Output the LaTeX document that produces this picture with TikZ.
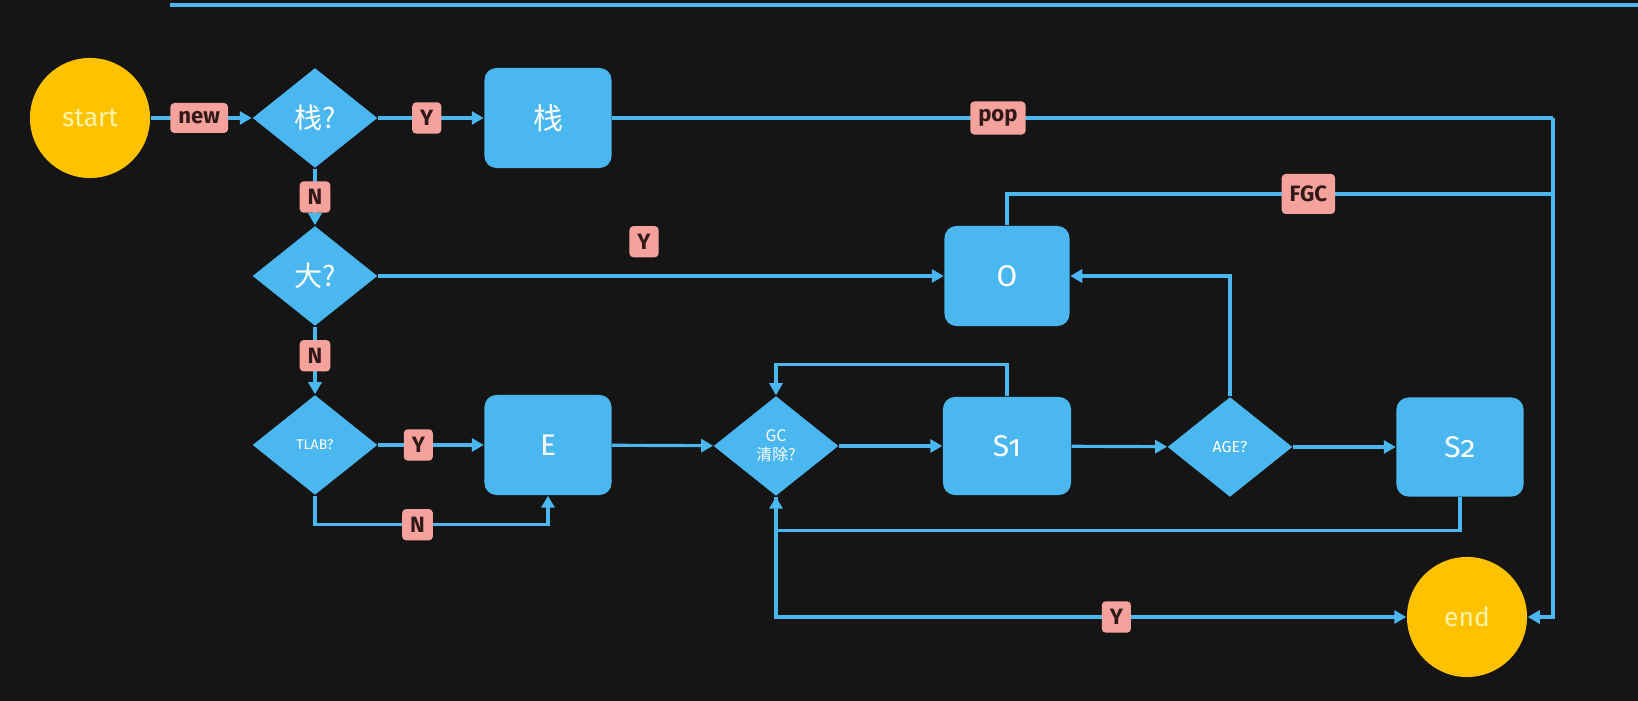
\documentclass[tikz,border=0pt]{standalone}
\usepackage{fontspec}
\setmainfont{Fira Sans}
\newfontfamily\cjk{Noto Sans CJK SC}
\newfontfamily\onum[Numbers=OldStyle]{Fira Sans}
\usepackage{xcolor}
\usetikzlibrary{shapes.geometric,arrows.meta}

\definecolor{board}{RGB}{21,21,21}
\definecolor{flowblue}{RGB}{74,183,240}
\definecolor{gold}{RGB}{255,194,0}
\definecolor{palegold}{RGB}{255,244,170}
\definecolor{salmon}{RGB}{246,162,156}
\definecolor{darktxt}{RGB}{50,25,25}

\tikzset{
  term/.style={circle, fill=gold, text=palegold, minimum size=1.2cm, inner sep=0pt, font=\fontsize{7.5}{8.5}\selectfont},
  ask/.style={diamond, fill=flowblue, text=white, minimum width=1.25cm, minimum height=1cm, inner sep=0pt, align=center},
  area/.style={rectangle, rounded corners=0.12cm, fill=flowblue, text=white, minimum width=1.27cm, minimum height=1cm, font=\fontsize{8.5}{10}\selectfont},
  tag/.style={rectangle, rounded corners=0.04cm, fill=salmon, text=darktxt, minimum height=0.3cm, inner sep=0.08cm, font=\fontsize{6.3}{7}\selectfont\bfseries},
  flow/.style={draw=flowblue, line width=0.9pt, -{Triangle[length=1.2mm,width=1.3mm]}},
  rail/.style={draw=flowblue, line width=0.9pt}
}

\begin{document}
\begin{tikzpicture}[x=0.01cm, y=-0.01cm]
\fill[board] (0,0) rectangle (1638,701);
\useasboundingbox (0,0) rectangle (1638,701);
\draw[rail, line width=1.2pt] (170,5) -- (1638,5);

\node[term] (start) at (90,118) {start};
\node[ask, font=\cjk\fontsize{8}{9}\selectfont] (isstack) at (315,118) {栈?};
\node[area, font=\cjk\fontsize{8.5}{10}\selectfont] (stack) at (548,118) {栈};
\node[ask, font=\cjk\fontsize{8}{9}\selectfont] (isbig) at (315,276) {大?};
\node[area, minimum width=1.25cm] (old) at (1007,276) {O};
\node[ask, font=\fontsize{4}{5}\selectfont] (tlab) at (315,445) {TLAB?};
\node[area] (eden) at (548,445) {E};
\node[ask, font=\cjk\fontsize{4.5}{5.5}\selectfont] (gc) at (776,446) {GC\\清除?};
\node[area, minimum width=1.28cm, minimum height=0.98cm] (sone) at (1007,446) {\onum S1};
\node[ask, font=\fontsize{4.5}{5.5}\selectfont] (age) at (1230,447) {AGE?};
\node[area, minimum width=1.27cm, minimum height=0.99cm] (stwo) at (1460,447) {\onum S2};
\node[term] (end) at (1467,617) {end};

\coordinate (poprail) at (1553,118);
\coordinate (fgcrail) at (1553,194);

% allocation path
\draw[flow] (start) -- node[tag, pos=0.48]{new} (isstack);
\draw[flow] (isstack) -- node[tag, pos=0.46]{Y} (stack);
\draw[flow] (isstack) -- node[tag]{N} (isbig);
\draw[flow] (isbig) -- node[tag, pos=0.47, above=0.17cm]{Y} (old);
\draw[flow] (isbig) -- node[tag, pos=0.43]{N} (tlab);
\draw[flow] (tlab) -- node[tag, pos=0.38]{Y} (eden);
\draw[flow] (tlab.south) -- ++(0,29) -| node[tag, pos=0.22]{N} (eden.south);

% young generation
\draw[flow] (eden) -- (gc);
\draw[flow] (gc) -- (sone);
\draw[flow] (sone.north) -- ++(0,-32) -| (gc.north);
\draw[flow] (sone) -- (age);
\draw[flow] (age) -- (stwo);
\draw[flow] (age.north) |- (old.east);
\draw[flow] (stwo.south) -- ++(0,33) -| (gc.south);

% to the end
\draw[rail] (stack.east) -- node[tag, pos=0.41]{pop} (poprail);
\draw[flow] (poprail) |- (end.east);
\draw[rail] (old.north) |- node[tag, pos=0.776, minimum height=0.4cm]{FGC} (fgcrail);
\draw[flow] (gc.south) |- node[tag, pos=0.77]{Y} (end.west);
\end{tikzpicture}
\end{document}
